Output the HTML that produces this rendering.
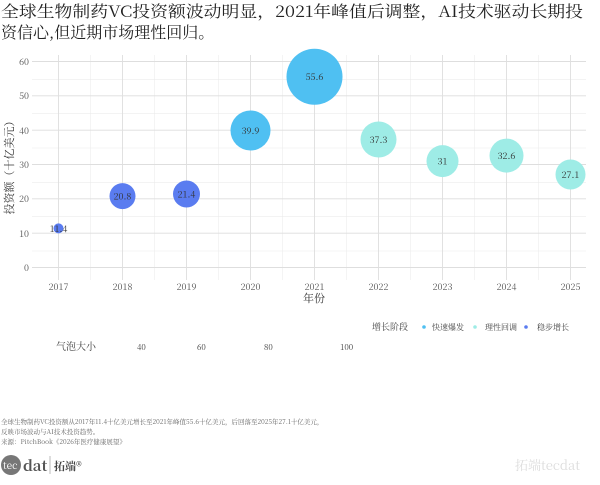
<!DOCTYPE html>
<html><head><meta charset="utf-8"><style>
body{margin:0;background:#fff;}
svg text{font-family:"Noto Serif CJK SC","Liberation Serif",serif;}
</style></head><body>
<svg width="600" height="480" xmlns="http://www.w3.org/2000/svg">
<rect width="600" height="480" fill="#fff"/>
<text x="1" y="17" font-size="16" fill="#222" textLength="582" lengthAdjust="spacingAndGlyphs">全球生物制药VC投资额波动明显，2021年峰值后调整，AI技术驱动长期投</text>
<text x="1" y="38" font-size="16" fill="#222">资信心,但近期市场理性回归。</text>
<g stroke="#ececec" stroke-width="0.6">
<line x1="32" x2="586" y1="251" y2="251"/><line x1="32" x2="586" y1="216.6" y2="216.6"/><line x1="32" x2="586" y1="182.3" y2="182.3"/><line x1="32" x2="586" y1="148" y2="148"/><line x1="32" x2="586" y1="113.7" y2="113.7"/><line x1="32" x2="586" y1="79.3" y2="79.3"/>
<line y1="55" y2="280" x1="90.5" x2="90.5"/><line y1="55" y2="280" x1="154.5" x2="154.5"/><line y1="55" y2="280" x1="218.5" x2="218.5"/><line y1="55" y2="280" x1="282.5" x2="282.5"/><line y1="55" y2="280" x1="346.5" x2="346.5"/><line y1="55" y2="280" x1="410.5" x2="410.5"/><line y1="55" y2="280" x1="474.5" x2="474.5"/><line y1="55" y2="280" x1="538.5" x2="538.5"/>
</g>
<g stroke="#dedede" stroke-width="0.9">
<line x1="32" x2="586" y1="267.5" y2="267.5"/><line x1="32" x2="586" y1="233.2" y2="233.2"/><line x1="32" x2="586" y1="198.8" y2="198.8"/><line x1="32" x2="586" y1="164.5" y2="164.5"/><line x1="32" x2="586" y1="130.2" y2="130.2"/><line x1="32" x2="586" y1="95.8" y2="95.8"/><line x1="32" x2="586" y1="61.5" y2="61.5"/>
<line y1="55" y2="280" x1="58.5" x2="58.5"/><line y1="55" y2="280" x1="122.5" x2="122.5"/><line y1="55" y2="280" x1="186.5" x2="186.5"/><line y1="55" y2="280" x1="250.5" x2="250.5"/><line y1="55" y2="280" x1="314.5" x2="314.5"/><line y1="55" y2="280" x1="378.5" x2="378.5"/><line y1="55" y2="280" x1="442.5" x2="442.5"/><line y1="55" y2="280" x1="506.5" x2="506.5"/><line y1="55" y2="280" x1="570.5" x2="570.5"/>
</g>
<g font-size="9" fill="#555" text-anchor="end">
<text x="29" y="271">0</text><text x="29" y="237">10</text><text x="29" y="202">20</text><text x="29" y="168">30</text><text x="29" y="134">40</text><text x="29" y="99">50</text><text x="29" y="65">60</text>
</g>
<g font-size="9" fill="#555" text-anchor="middle">
<text x="58.5" y="290">2017</text><text x="122.5" y="290">2018</text><text x="186.5" y="290">2019</text><text x="250.5" y="290">2020</text><text x="314.5" y="290">2021</text><text x="378.5" y="290">2022</text><text x="442.5" y="290">2023</text><text x="506.5" y="290">2024</text><text x="570.5" y="290">2025</text>
</g>
<text x="314" y="302" font-size="11" fill="#333" text-anchor="middle">年份</text>
<text transform="translate(13,165) rotate(-90)" font-size="11" fill="#333" text-anchor="middle">投资额（十亿美元）</text>
<circle cx="58.5" cy="228.4" r="5" fill="#5a7cf0"/>
<circle cx="122.5" cy="196.1" r="13" fill="#5a7cf0"/>
<circle cx="186.5" cy="194" r="13.5" fill="#5a7cf0"/>
<circle cx="250.5" cy="130.5" r="20" fill="#4fc0f2"/>
<circle cx="314.5" cy="76.7" r="28" fill="#4fc0f2"/>
<circle cx="378.5" cy="139.5" r="18" fill="#9eece6"/>
<circle cx="442.5" cy="161.1" r="16" fill="#9eece6"/>
<circle cx="506.5" cy="155.6" r="17" fill="#9eece6"/>
<circle cx="570.5" cy="174.5" r="15" fill="#9eece6"/>
<g font-size="9" fill="#333" text-anchor="middle">
<text x="58.5" y="232">11.4</text><text x="122.5" y="199.5">20.8</text><text x="186.5" y="197.5">21.4</text><text x="250.5" y="134">39.9</text><text x="314.5" y="80">55.6</text><text x="378.5" y="143">37.3</text><text x="442.5" y="164.5">31</text><text x="506.5" y="159">32.6</text><text x="570.5" y="178">27.1</text>
</g>
<g font-size="8" fill="#444">
<text x="372" y="330" font-size="9">增长阶段</text>
<circle cx="424" cy="327" r="1.8" fill="#4fc0f2"/><text x="432" y="330">快速爆发</text>
<circle cx="475" cy="327" r="1.8" fill="#9eece6"/><text x="485" y="330">理性回调</text>
<circle cx="526" cy="327" r="1.8" fill="#5a7cf0"/><text x="537" y="330">稳步增长</text>
<text x="56" y="350" font-size="10">气泡大小</text>
<text x="137" y="350">40</text><text x="197" y="350">60</text><text x="264" y="350">80</text><text x="340" y="350">100</text>
</g>
<g font-size="6.5" fill="#666">
<text x="1" y="424">全球生物制药VC投资额从2017年11.4十亿美元增长至2021年峰值55.6十亿美元，后回落至2025年27.1十亿美元，</text>
<text x="1" y="434">反映市场波动与AI技术投资趋势。</text>
<text x="1" y="444">来源：PitchBook《2026年医疗健康展望》</text>
</g>
<circle cx="11" cy="465" r="10" fill="#777"/>
<text x="3" y="469" font-size="10" fill="#fff" font-family="Liberation Sans">tec</text>
<text x="23" y="471" font-size="15" fill="#555" font-family="Liberation Sans" font-weight="bold">dat</text>
<line x1="50" y1="456" x2="50" y2="474" stroke="#bbb"/>
<text x="54" y="470" font-size="11" fill="#444" font-weight="bold">拓端®</text>
<text x="515" y="470" font-size="13" fill="#ddd">拓端tecdat</text>
</svg>
</body></html>
